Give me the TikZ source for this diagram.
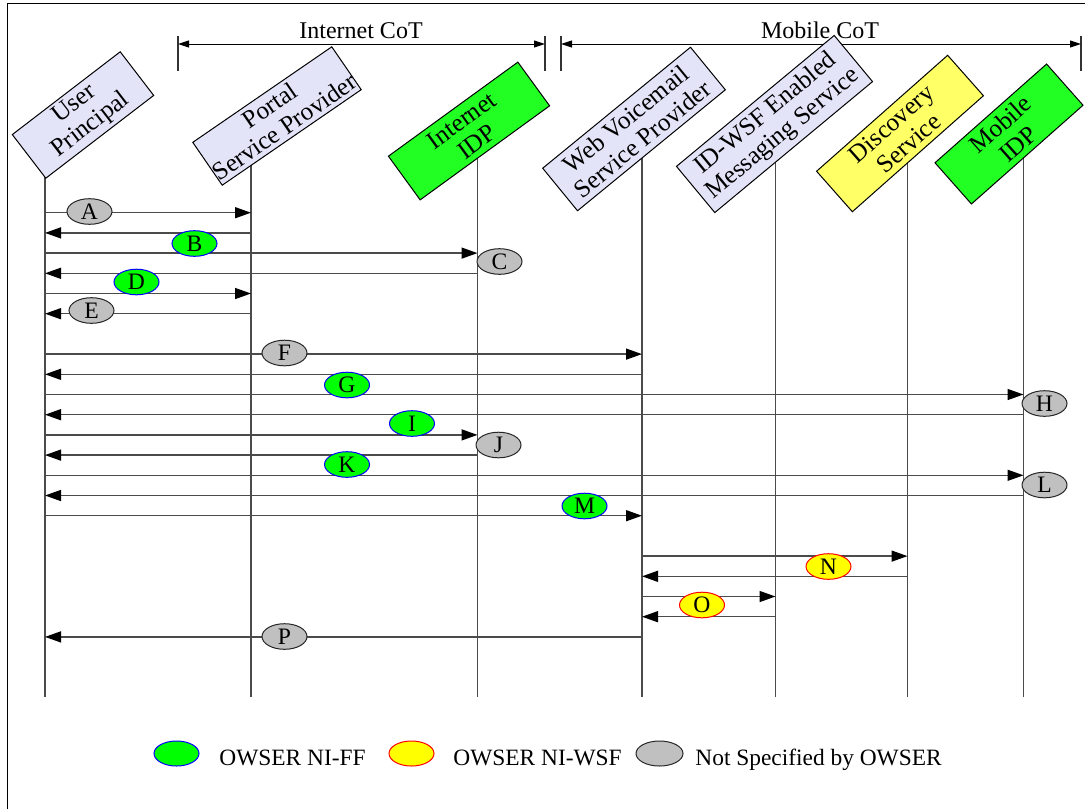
\documentclass[tikz,border=0pt]{standalone}
\usepackage{fontspec}
\setmainfont{Liberation Serif}
\usetikzlibrary{arrows.meta,shapes.geometric}
\pgfdeclarelayer{bg}
\pgfsetlayers{bg,main}
\definecolor{lav}{RGB}{228,228,249}
\definecolor{boxgreen}{RGB}{34,255,34}
\definecolor{boxyellow}{RGB}{255,255,102}
\definecolor{lbgreen}{RGB}{0,255,0}
\definecolor{lbyellow}{RGB}{255,255,0}
\definecolor{lbgray}{RGB}{192,192,192}
\definecolor{linegray}{RGB}{75,75,75}
\begin{document}
\begin{tikzpicture}[x=0.5pt,y=-0.5pt,
  actor/.style={draw=black, line width=0.5pt, align=center, inner sep=0pt,
    font=\fontsize{12.6}{13.2}\selectfont},
  life/.style={draw=linegray, line width=0.75pt},
  msg/.style={draw=linegray, line width=0.7pt, -{Triangle[length=8pt,width=5.5pt,color=black]}},
  lbl/.style={ellipse, minimum width=22.5pt, minimum height=12.8pt, inner sep=0pt, line width=0.5pt,
    font=\fontsize{11.8}{12}\selectfont},
  ff/.style={lbl, fill=lbgreen, draw=blue},
  wsf/.style={lbl, fill=lbyellow, draw=red},
  ns/.style={lbl, fill=lbgray, draw=black!85},
  tick/.style={draw=black!80, line width=0.6pt},
  span/.style={draw=black, line width=0.5pt, {Triangle[length=5.5pt,width=3.5pt]}-{Triangle[length=5.5pt,width=3.5pt]}},
  hdr/.style={anchor=base, inner sep=0pt, font=\fontsize{12}{13}\selectfont},
  key/.style={anchor=base west, inner sep=0pt, font=\fontsize{11.7}{12}\selectfont}
]
\useasboundingbox (0,0) rectangle (1085,809);
% frame
\coordinate (fb) at (7.5,809);
\coordinate (fc) at (7.5,3.5);
\coordinate (fr) at (1085,3.5);
\draw[line width=0.8pt] (fb) -- (fc) -- (fr);

% headers
\node[hdr] (inet) at (361,38) {Internet CoT};
\node[hdr] (mob) at (820,38) {Mobile CoT};
\coordinate (i1t) at (178,36); \coordinate (i1b) at (178,71);
\coordinate (i2t) at (545,36); \coordinate (i2b) at (545,71);
\coordinate (m1t) at (561,36); \coordinate (m1b) at (561,71);
\coordinate (m2t) at (1081,36); \coordinate (m2b) at (1081,71);
\draw[tick] (i1t) -- (i1b);
\draw[tick] (i2t) -- (i2b);
\draw[tick] (m1t) -- (m1b);
\draw[tick] (m2t) -- (m2b);
\draw[span] (i1t |- 0,44) -- (i2t |- 0,44);
\draw[span] (m1t |- 0,44) -- (m2t |- 0,44);

% actors
\node[actor, fill=lav, rotate=37.5, minimum width=68pt, minimum height=27.5pt] (user) at (83,115) {User\\Principal};
\node[actor, fill=lav, rotate=34.5, minimum width=82pt, minimum height=26pt] (portal) at (277,116) {Portal\\Service Provider};
\node[actor, fill=boxgreen, rotate=36, minimum width=80pt, minimum height=27pt] (iidp) at (469,131) {Internet\\IDP};
\node[actor, fill=lav, rotate=39.3, minimum width=95.5pt, minimum height=27.5pt] (web) at (634,129) {Web Voicemail\\Service Provider};
\node[actor, fill=lav, rotate=39.7, minimum width=102.5pt, minimum height=30pt] (msgsvc) at (774.5,124) {ID-WSF Enabled\\Messaging Service};
\node[actor, fill=boxyellow, rotate=41.5, minimum width=87.5pt, minimum height=27pt] (disc) at (900,133.5) {Discovery\\Service};
\node[actor, fill=boxgreen, rotate=41.5, minimum width=74.5pt, minimum height=27.5pt] (midp) at (1009,134) {Mobile\\IDP};

% lifelines
\coordinate (uB) at (45,697);
\coordinate (pB) at (251,697);
\coordinate (iB) at (477.5,697);
\coordinate (wB) at (642,697);
\coordinate (sB) at (775.5,697);
\coordinate (dB) at (907.5,697);
\coordinate (mB) at (1023.5,697);
\begin{pgfonlayer}{bg}
\draw[life] (uB) -- (uB |- user.center);
\draw[life] (pB) -- (pB |- portal.center);
\draw[life] (iB) -- (iB |- iidp.center);
\draw[life] (wB) -- (wB |- web.center);
\draw[life] (sB) -- (sB |- msgsvc.center);
\draw[life] (dB) -- (dB |- disc.center);
\draw[life] (mB) -- (mB |- midp.center);
\end{pgfonlayer}

% messages
\draw[msg] (uB |- 0,212.7) -- (pB |- 0,212.7);
\draw[msg] (pB |- 0,232.9) -- (uB |- 0,232.9);
\draw[msg] (uB |- 0,253.1) -- (iB |- 0,253.1);
\draw[msg] (iB |- 0,273.3) -- (uB |- 0,273.3);
\draw[msg] (uB |- 0,293.5) -- (pB |- 0,293.5);
\draw[msg] (pB |- 0,313.7) -- (uB |- 0,313.7);
\draw[msg] (uB |- 0,354.1) -- (wB |- 0,354.1);
\draw[msg] (wB |- 0,374.3) -- (uB |- 0,374.3);
\draw[msg] (uB |- 0,394.5) -- (mB |- 0,394.5);
\draw[msg] (mB |- 0,414.7) -- (uB |- 0,414.7);
\draw[msg] (uB |- 0,434.9) -- (iB |- 0,434.9);
\draw[msg] (iB |- 0,455.1) -- (uB |- 0,455.1);
\draw[msg] (uB |- 0,475.3) -- (mB |- 0,475.3);
\draw[msg] (mB |- 0,495.5) -- (uB |- 0,495.5);
\draw[msg] (uB |- 0,515.7) -- (wB |- 0,515.7);
\draw[msg] (wB |- 0,556.1) -- (dB |- 0,556.1);
\draw[msg] (dB |- 0,576.3) -- (wB |- 0,576.3);
\draw[msg] (wB |- 0,596.5) -- (sB |- 0,596.5);
\draw[msg] (sB |- 0,616.7) -- (wB |- 0,616.7);
\draw[msg] (wB |- 0,636.9) -- (uB |- 0,636.9);

% message labels
\node[ns]  (A) at (89.5,211.5) {A};
\node[ff]  (B) at (194.5,243.5) {B};
\node[ns]  (C) at (499.5,261.5) {C};
\node[ff]  (D) at (136.5,282) {D};
\node[ns]  (E) at (91.5,310.5) {E};
\node[ns]  (F) at (284.5,353) {F};
\node[ff]  (G) at (347,385) {G};
\node[ns]  (H) at (1044.5,403.5) {H};
\node[ff]  (I) at (412,423.5) {I};
\node[ns]  (J) at (498.5,445) {J};
\node[ff]  (K) at (347,464.5) {K};
\node[ns]  (L) at (1044.5,485) {L};
\node[ff]  (M) at (584.5,506) {M};
\node[wsf] (N) at (828.5,566.5) {N};
\node[wsf] (O) at (702,605) {O};
\node[ns]  (P) at (284.5,636.5) {P};

% legend
\node[ff, minimum width=22.5pt, minimum height=12.5pt] (kff) at (176.5,753.5) {};
\node[key] (tff) at (219,765) {OWSER NI-FF};
\node[wsf, minimum width=22.5pt, minimum height=12.5pt] (kwsf) at (411.5,753.5) {};
\node[key] (twsf) at (453,765) {OWSER NI-WSF};
\node[ns, minimum width=23.5pt, minimum height=12.5pt] (kns) at (659.5,753.5) {};
\node[key] (tns) at (695,765) {Not Specified by OWSER};
\end{tikzpicture}
\end{document}
